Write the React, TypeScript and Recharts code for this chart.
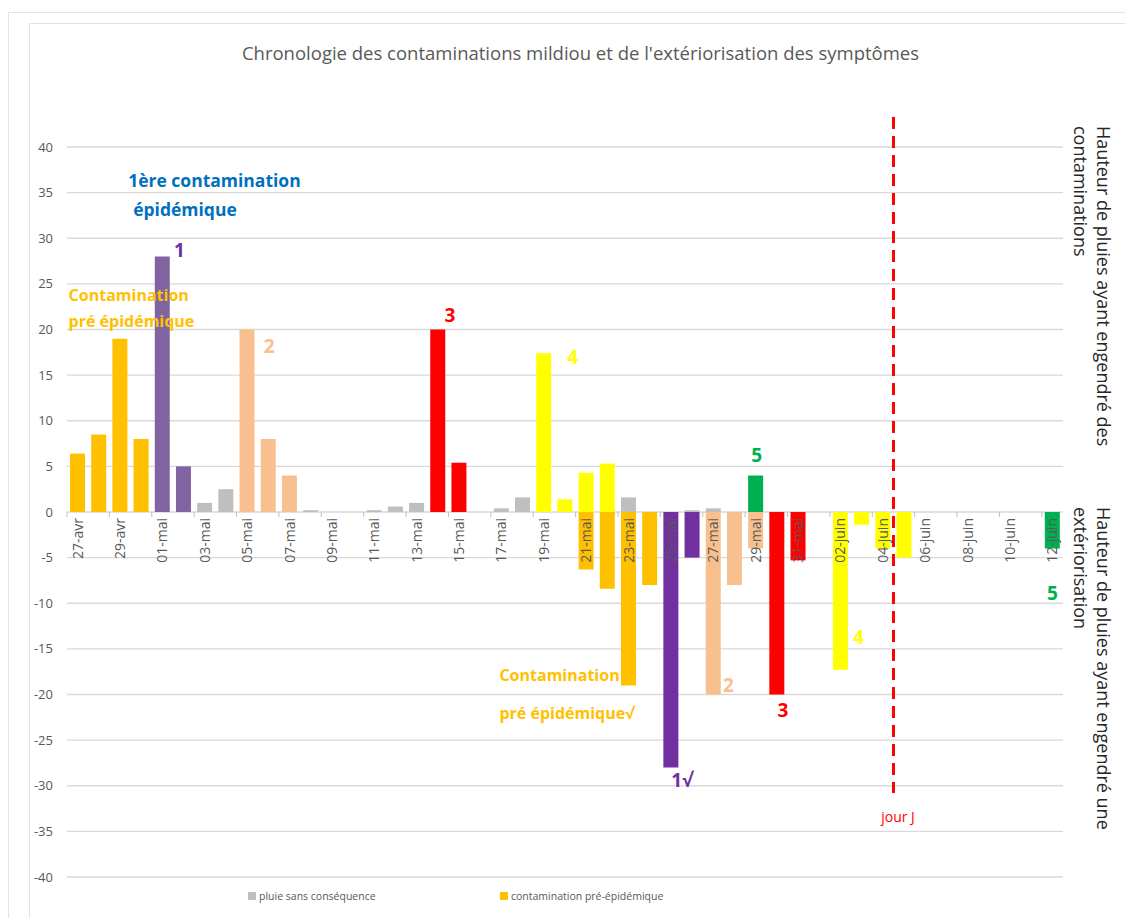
import { BarChart, Bar, Cell, XAxis, YAxis, CartesianGrid, ReferenceLine, ReferenceDot } from 'recharts';

// dates (one bar slot per day)
const dates = [
  '27-avr', '28-avr', '29-avr', '30-avr',
  '01-mai', '02-mai', '03-mai', '04-mai', '05-mai', '06-mai', '07-mai', '08-mai', '09-mai', '10-mai',
  '11-mai', '12-mai', '13-mai', '14-mai', '15-mai', '16-mai', '17-mai', '18-mai', '19-mai', '20-mai',
  '21-mai', '22-mai', '23-mai', '24-mai', '25-mai', '26-mai', '27-mai', '28-mai', '29-mai', '30-mai', '31-mai',
  '01-juin', '02-juin', '03-juin', '04-juin', '05-juin', '06-juin', '07-juin', '08-juin', '09-juin',
  '10-juin', '11-juin', '12-juin',
];

// rain that caused contaminations (mm)
const pluie = [
  6.4, 8.5, 19, 8,
  28, 5, 1, 2.5, 20, 8, 4, 0.2, 0, 0,
  0.2, 0.6, 1, 20, 5.4, 0, 0.4, 1.6, 17.4, 1.4,
  4.3, 5.3, 1.6, 0, 0, 0.2, 0.4, 0, 4, 0, 0,
  0, 0, 0, 0, 0, 0, 0, 0, 0,
  0, 0, 0,
];
const pluieKind = [
  'pre', 'pre', 'pre', 'pre',
  'c1', 'c1', 'gris', 'gris', 'c2', 'c2', 'c2', 'gris', 'gris', 'gris',
  'gris', 'gris', 'gris', 'c3', 'c3', 'gris', 'gris', 'gris', 'c4', 'c4',
  'c4', 'c4', 'gris', 'gris', 'gris', 'gris', 'gris', 'gris', 'c5', 'gris', 'gris',
  'gris', 'gris', 'gris', 'gris', 'gris', 'gris', 'gris', 'gris', 'gris',
  'gris', 'gris', 'gris',
];

// rain at the time symptoms showed up (drawn downward)
const sortie = [
  0, 0, 0, 0,
  0, 0, 0, 0, 0, 0, 0, 0, 0, 0,
  0, 0, 0, 0, 0, 0, 0, 0, 0, 0,
  -6.3, -8.4, -19, -8, -28, -5, -20, -8, -4, -20, -5.3,
  0, -17.3, -1.4, -4, -5, 0, 0, 0, 0,
  0, 0, -4,
];
const sortieKind = [
  'pre', 'pre', 'pre', 'pre',
  'pre', 'pre', 'pre', 'pre', 'pre', 'pre', 'pre', 'pre', 'pre', 'pre',
  'pre', 'pre', 'pre', 'pre', 'pre', 'pre', 'pre', 'pre', 'pre', 'pre',
  'pre', 'pre', 'pre', 'pre', 'c1b', 'c1b', 'c2', 'c2', 'c2', 'c3', 'c3',
  'c4', 'c4', 'c4', 'c4', 'c4', 'c4', 'c4', 'c4', 'c4',
  'c5', 'c5', 'c5',
];

const yTicks = [-40, -35, -30, -25, -20, -15, -10, -5, 0, 5, 10, 15, 20, 25, 30, 35, 40];

const COLORS: Record<string, string> = {
  gris: '#BFBFBF',
  pre: '#FFC000',
  c1: '#8064A2',
  c1b: '#7030A0',
  c2: '#F8C08E',
  c3: '#FF0000',
  c4: '#FFFF00',
  c5: '#00B050',
};

const BLUE = '#0070C0';
const FONT = '"Open Sans", sans-serif';

// annotations anchored on a day and a value, dx in px
const notes = [
  { t: '1ère contamination', d: '30-avr', v: 36.4, dx: -13, c: BLUE, s: 17.5, a: 'start', w: 700 },
  { t: 'épidémique', d: '30-avr', v: 33.2, dx: -8, c: BLUE, s: 17.5, a: 'start', w: 700 },
  { t: 'Contamination', d: '27-avr', v: 23.8, dx: -9, c: '#FFC000', s: 16, a: 'start', w: 700 },
  { t: 'pré épidémique', d: '27-avr', v: 20.9, dx: -9, c: '#FFC000', s: 16, a: 'start', w: 700 },
  { t: '1', d: '01-mai', v: 28.7, dx: 17, c: '#7030A0', s: 19, a: 'middle', w: 700 },
  { t: '2', d: '05-mai', v: 18.2, dx: 22, c: '#F8C08E', s: 19, a: 'middle', w: 700 },
  { t: '3', d: '14-mai', v: 21.6, dx: 12, c: '#FF0000', s: 19, a: 'middle', w: 700 },
  { t: '4', d: '19-mai', v: 17.0, dx: 29, c: '#FFFF00', s: 19, a: 'middle', w: 700 },
  { t: '5', d: '29-mai', v: 6.3, dx: 1, c: '#00B050', s: 19, a: 'middle', w: 700 },
  { t: 'Contamination', d: '17-mai', v: -17.9, dx: -2, c: '#FFC000', s: 16, a: 'start', w: 700 },
  { t: 'pré épidémique√', d: '17-mai', v: -22, dx: -2, c: '#FFC000', s: 16, a: 'start', w: 700 },
  { t: '1√', d: '25-mai', v: -29.4, dx: 11, c: '#7030A0', s: 19, a: 'middle', w: 700 },
  { t: '2', d: '27-mai', v: -19, dx: 15, c: '#F8C08E', s: 19, a: 'middle', w: 700 },
  { t: '3', d: '30-mai', v: -21.7, dx: 6, c: '#FF0000', s: 19, a: 'middle', w: 700 },
  { t: '4', d: '02-juin', v: -13.7, dx: 18, c: '#FFFF00', s: 19, a: 'middle', w: 700 },
  { t: '5', d: '12-juin', v: -8.9, dx: 0, c: '#00B050', s: 19, a: 'middle', w: 700 },
  { t: 'jour J', d: '05-juin', v: -33.4, dx: -6, c: '#FF0000', s: 14, a: 'middle', w: 400 },
];

const W = 1125;
const H = 918;
const MARGIN = { top: 147, right: 62, bottom: 40, left: 0 };
const PLOT_H = H - MARGIN.top - MARGIN.bottom - 1;
const PLOT_W = W - MARGIN.left - MARGIN.right - 67;
const BAND = PLOT_W / dates.length;
const ZERO_Y = MARGIN.top + PLOT_H / 2;

const data = dates.map((date, i) => ({ date, pluie: pluie[i], sortie: sortie[i] }));

// category labels sit on the zero line, like the Excel original
const DateTick = ({ x, payload }: any) => (
  <g transform={`translate(${x},${ZERO_Y})`}>
    <line x1={-BAND / 2} x2={-BAND / 2} y1={0} y2={5} stroke="#BFBFBF" />
    <text
      transform="rotate(-90)"
      x={-6}
      y={0}
      dy={5}
      textAnchor="end"
      fill="#595959"
      fontSize={14}
      fontFamily={FONT}
    >
      {payload.value}
    </text>
  </g>
);

const noteShape = (n: any) => (props: any) => (
  <text
    x={props.cx + n.dx}
    y={props.cy}
    dominantBaseline="central"
    textAnchor={n.a}
    fill={n.c}
    fontSize={n.s}
    fontWeight={n.w}
    fontFamily={FONT}
  >
    {n.t}
  </text>
);

const legendItem = { position: 'absolute' as const, top: 889, fontSize: 10.5, color: '#595959', display: 'flex', alignItems: 'center', gap: 3 };

export default function App() {
  return (
    <div style={{ position: 'absolute', left: 0, top: 0, width: W, height: H, overflow: 'hidden', background: '#fff', fontFamily: FONT }}>
      <div style={{ position: 'absolute', left: 8, top: 12, width: 1200, height: 1000, border: '1.5px solid #E3E3E3' }} />
      <div style={{ position: 'absolute', left: 29, top: 23, width: 1200, height: 1000, border: '1.5px solid #E3E3E3' }} />

      <div style={{ position: 'absolute', left: 0, top: 40, width: 1161, textAlign: 'center', fontSize: 18.5, color: '#595959' }}>
        Chronologie des contaminations mildiou et de l'extériorisation des symptômes
      </div>

      <div style={{ position: 'absolute', left: 1069, top: 126, height: 370, writingMode: 'vertical-rl', fontSize: 18, lineHeight: '23px', color: '#262626' }}>
        Hauteur de pluies ayant engendré des contaminations
      </div>
      <div style={{ position: 'absolute', left: 1069, top: 507, height: 370, writingMode: 'vertical-rl', fontSize: 18, lineHeight: '23px', color: '#262626' }}>
        Hauteur de pluies ayant engendré une extériorisation
      </div>

      <div style={{ position: 'absolute', left: 0, top: 0 }}>
        <BarChart width={W} height={H} data={data} margin={MARGIN} stackOffset="sign" barCategoryGap="31%">
          <CartesianGrid vertical={false} stroke="#D9D9D9" strokeWidth={1.3} />
          <XAxis
            dataKey="date"
            interval={1}
            height={1}
            axisLine={false}
            tickLine={false}
            tick={(p: any) => <DateTick {...p} />}
          />
          <YAxis
            domain={[-40, 40]}
            ticks={yTicks}
            width={67}
            axisLine={false}
            tickLine={false}
            tickMargin={8}
            tick={{ fill: '#595959', fontSize: 13, fontFamily: FONT }}
          />
          <Bar dataKey="pluie" stackId="p" barSize={15} isAnimationActive={false}>
            {data.map((_, i) => (
              <Cell key={i} fill={COLORS[pluieKind[i]]} />
            ))}
          </Bar>
          <Bar dataKey="sortie" stackId="p" barSize={15} isAnimationActive={false}>
            {data.map((_, i) => (
              <Cell key={i} fill={COLORS[sortieKind[i]]} />
            ))}
          </Bar>
          <ReferenceLine
            segment={[{ x: '04-juin', y: 43.3 }, { x: '04-juin', y: -30.8 }]}
            position="end"
            stroke="#FF0000"
            strokeWidth={3}
            strokeDasharray="12 7"
            ifOverflow="visible"
          />
          {notes.map((n, i) => (
            <ReferenceDot key={i} x={n.d} y={n.v} r={0} ifOverflow="visible" shape={noteShape(n)} />
          ))}
        </BarChart>
      </div>

      <div style={{ ...legendItem, left: 248 }}>
        <span style={{ width: 8, height: 8, background: '#BFBFBF', display: 'inline-block' }} />
        pluie sans conséquence
      </div>
      <div style={{ ...legendItem, left: 500 }}>
        <span style={{ width: 8, height: 8, background: '#FFC000', display: 'inline-block' }} />
        contamination pré-épidémique
      </div>
    </div>
  );
}
